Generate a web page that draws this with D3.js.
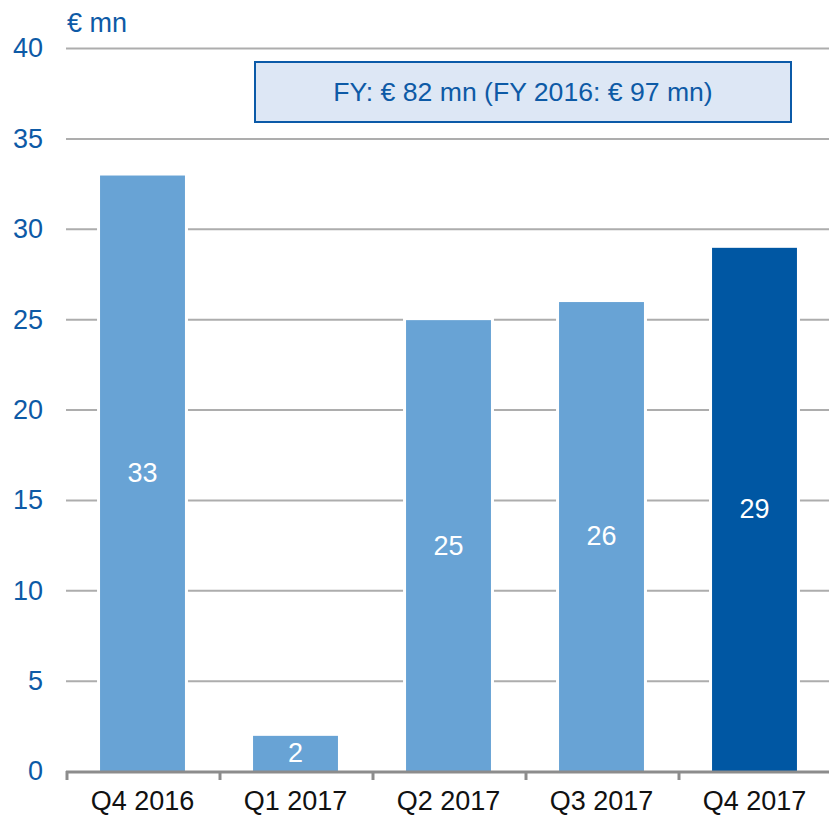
<!DOCTYPE html>
<html lang="en">
<head>
  <meta charset="UTF-8">
  <title>Quarterly bar chart</title>
  <style>
    body { margin: 0; background: #fff; }
    svg { display: block; font-family: "Liberation Sans", Arial, sans-serif; }
  </style>
</head>
<body>
<svg class="chart"></svg>
<script src="https://d3js.org/d3.v7.min.js"></script>
<script>
  // Data
  const quarters = ['Q4 2016', 'Q1 2017', 'Q2 2017', 'Q3 2017', 'Q4 2017'];
  const values = [33, 2, 25, 26, 29];
  const highlight = [false, false, false, false, true];
  const yTicks = [0, 5, 10, 15, 20, 25, 30, 35, 40];
  const unitLabel = '€ mn';
  const noteText = 'FY: € 82 mn (FY 2016: € 97 mn)';

  const width = 829;
  const height = 815;
  const margin = { top: 48, right: -2, bottom: 44, left: 66 };

  const blue = '#0d5aa6';
  const light = '#68a3d5';
  const dark = '#0057a3';

  const svg = d3.select('.chart')
    .attr('width', width)
    .attr('height', height);

  const x = d3.scaleBand()
    .domain(quarters)
    .range([margin.left, width - margin.right])
    .paddingInner(0.445)
    .paddingOuter(0.2225);

  const y = d3.scaleLinear()
    .domain([0, 40])
    .range([height - margin.bottom, margin.top]);

  // Gridlines
  svg.append('g')
    .attr('transform', `translate(${margin.left},0)`)
    .call(d3.axisLeft(y).tickValues(yTicks.slice(1)).tickSize(-(width - margin.left)).tickFormat(''))
    .call(g => g.select('.domain').remove())
    .selectAll('line')
    .attr('stroke', '#adadad')
    .attr('stroke-width', 2);

  // Y tick labels
  svg.append('g')
    .selectAll('text')
    .data(yTicks)
    .enter().append('text')
    .attr('x', 43)
    .attr('y', d => y(d))
    .attr('dy', '0.35em')
    .attr('text-anchor', 'end')
    .attr('fill', blue)
    .style('font-size', '27px')
    .text(d => d);

  // Unit label
  svg.append('text')
    .attr('x', 67)
    .attr('y', 32)
    .attr('fill', blue)
    .style('font-size', '27px')
    .text(unitLabel);

  // Bars with a white gap around them
  const bars = svg.append('g').selectAll('g')
    .data(quarters)
    .enter().append('g');

  bars.append('rect')
    .attr('x', d => x(d) - 3)
    .attr('width', x.bandwidth() + 6)
    .attr('y', (d, i) => y(values[i]) - 3)
    .attr('height', (d, i) => y(0) - y(values[i]) + 3)
    .attr('fill', '#fff');

  bars.append('rect')
    .attr('x', d => x(d))
    .attr('width', x.bandwidth())
    .attr('y', (d, i) => y(values[i]) + 1)
    .attr('height', (d, i) => y(0) - y(values[i]) - 1)
    .attr('fill', (d, i) => highlight[i] ? dark : light);

  bars.append('text')
    .attr('x', d => x(d) + x.bandwidth() / 2)
    .attr('y', (d, i) => y(values[i] / 2))
    .attr('dy', '0.35em')
    .attr('text-anchor', 'middle')
    .attr('fill', '#fff')
    .style('font-size', '27px')
    .text((d, i) => values[i]);

  // X axis line and ticks between categories
  const axis = svg.append('g');
  axis.append('line')
    .attr('x1', margin.left)
    .attr('x2', width)
    .attr('y1', y(0) + 1)
    .attr('y2', y(0) + 1)
    .attr('stroke', '#8c8c8c')
    .attr('stroke-width', 3);

  const step = x.step();
  axis.selectAll('.tick')
    .data(d3.range(quarters.length + 1))
    .enter().append('line')
    .attr('x1', i => margin.left + 1 + i * step)
    .attr('x2', i => margin.left + 1 + i * step)
    .attr('y1', y(0))
    .attr('y2', y(0) + 9)
    .attr('stroke', '#8c8c8c')
    .attr('stroke-width', 3);

  svg.append('g')
    .attr('transform', `translate(0,${y(0)})`)
    .call(d3.axisBottom(x).tickSize(0).tickPadding(20))
    .call(g => g.select('.domain').remove())
    .selectAll('text')
    .attr('fill', '#111')
    .style('font-size', '27px')
    .style('font-family', '"Liberation Sans", Arial, sans-serif');

  // Note box
  const note = svg.append('g');
  note.append('rect')
    .attr('x', 255)
    .attr('y', 62)
    .attr('width', 536)
    .attr('height', 60)
    .attr('fill', '#dde7f5')
    .attr('stroke', '#0b5aa8')
    .attr('stroke-width', 2);

  note.append('text')
    .attr('x', 523)
    .attr('y', 92)
    .attr('dy', '0.35em')
    .attr('text-anchor', 'middle')
    .attr('fill', blue)
    .style('font-size', '26.6px')
    .text(noteText);
</script>
</body>
</html>
